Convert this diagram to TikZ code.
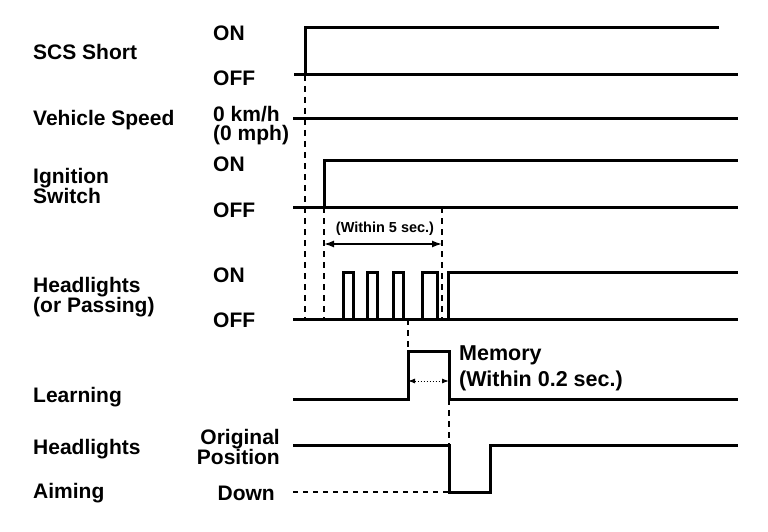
\documentclass[tikz,border=0pt]{standalone}
\usepackage{fontspec}
\setmainfont{Liberation Sans}
\usetikzlibrary{arrows.meta}

\begin{document}
\begin{tikzpicture}[x=1pt, y=-1pt,
    sig/.style={line width=3pt, line join=miter},
    guide/.style={line width=1.2pt, dash pattern=on 6pt off 5pt},
    lbl/.style={anchor=west, inner sep=0pt, align=left,
      font=\fontsize{21}{19}\selectfont\bfseries},
    lvl/.style={lbl},
    note/.style={anchor=west, inner sep=0pt, font=\fontsize{21.5}{20}\selectfont\bfseries}]
  \useasboundingbox (0,0) rectangle (768,532);
  % signal names
  \node[lbl] (scs) at (33,52) {SCS Short};
  \node[lbl] (vsp) at (33,120) {Vehicle Speed};
  \node[lbl] (ign) at (33,186) {Ignition\\Switch};
  \node[lbl] (hlp) at (33,297) {Headlights\\(or Passing)};
  \node[lbl] (lrn) at (33,397) {Learning};
  \node[lbl] (hla) at (33,449) {Headlights};
  \node[lbl] (aim) at (33,493) {Aiming};
  % levels
  \node[lvl] (scson) at (213,33) {ON};
  \node[lvl] (scsoff) at (213,78) {OFF};
  \node[lvl] (vspzero) at (213,126) {0 km/h\\(0 mph)};
  \node[lvl] (ignon) at (213,164) {ON};
  \node[lvl] (ignoff) at (213,210) {OFF};
  \node[lvl] (hlpon) at (213,275) {ON};
  \node[lvl] (hlpoff) at (213,320) {OFF};
  \node[lvl, anchor=east, align=right] (orig) at (280,447) {Original\\Position};
  \node[lvl, anchor=east] (down) at (275,493) {Down};
  % SCS short
  \draw[sig] (294,75) -- (738,75);
  \draw[sig] (305,75) -- (305,28) -- (719,28);
  % vehicle speed
  \draw[sig] (293,119) -- (738,119);
  % ignition switch
  \draw[sig] (293,207) -- (738,207);
  \draw[sig] (324,207) -- (324,160) -- (738,160);
  % headlights, switched four times then left on
  \draw[sig] (293,319) -- (738,319);
  \foreach \a/\b in {343/353, 367/377, 393/403, 422/437}
    \draw[sig] (\a,319) -- (\a,272) -- (\b,272) -- (\b,319);
  \draw[sig] (448,319) -- (448,272) -- (738,272);
  % learning
  \draw[sig] (293,399) -- (408,399) -- (408,351) -- (449,351) -- (449,399) -- (738,399);
  % aiming
  \draw[sig] (293,445) -- (449,445) -- (449,492) -- (490,492) -- (490,445) -- (738,445);
  \draw[line width=2pt, dash pattern=on 5pt off 5pt] (293,492) -- (449,492);
  % timing guides
  \draw[guide] (305,75) -- (305,319);
  \draw[guide] (324,207) -- (324,319);
  \draw[guide] (442,207) -- (442,319);
  \draw[guide] (408,319) -- (408,351);
  \draw[guide] (449,399) -- (449,445);
  % within 5 sec.
  \coordinate (w5a) at (324,244);
  \coordinate (w5b) at (442,244);
  \draw[{Latex[length=10pt,width=7pt]}-{Latex[length=10pt,width=7pt]}, line width=1.6pt] (w5a) -- (w5b);
  \node[font=\fontsize{14.5}{15}\selectfont\bfseries, inner sep=0pt] (w5) at (385,229) {(Within 5 sec.)};
  % memory, within 0.2 sec.
  \coordinate (w2a) at (408,381);
  \coordinate (w2b) at (449,381);
  \draw[{Latex[length=7pt,width=5pt]}-{Latex[length=7pt,width=5pt]}, line width=1pt, dotted] (w2a) -- (w2b);
  \node[note] (mem) at (459,355) {Memory};
  \node[note] (w2) at (459,381) {(Within 0.2 sec.)};
\end{tikzpicture}
\end{document}
